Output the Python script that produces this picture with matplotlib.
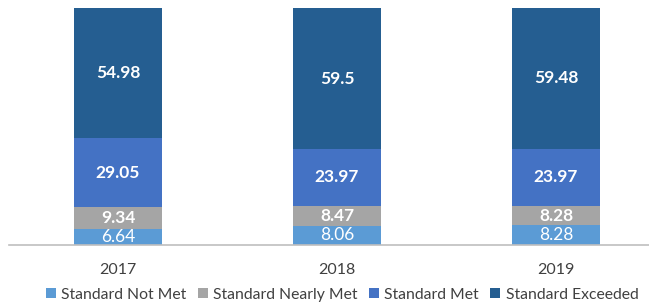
import matplotlib.pyplot as plt
import numpy as np

plt.rcParams['font.family'] = ['Lato', 'DejaVu Sans']

years = ['2017', '2018', '2019']
not_met = [6.64, 8.06, 8.28]
nearly_met = [9.34, 8.47, 8.28]
met = [29.05, 23.97, 23.97]
exceeded = [54.98, 59.5, 59.48]

series = [('Standard Not Met', not_met, '#5B9BD5', 'normal'),
          ('Standard Nearly Met', nearly_met, '#A5A5A5', 'bold'),
          ('Standard Met', met, '#4472C4', 'bold'),
          ('Standard Exceeded', exceeded, '#255E91', 'bold')]

fig = plt.figure(figsize=(6.49, 3.05), dpi=100)
ax = fig.add_axes([8.5 / 649, 60 / 305, 640.5 / 649, 237 / 305])

x = np.arange(len(years))
bottom = np.zeros(len(years))
for name, vals, color, weight in series:
    vals = np.array(vals)
    ax.bar(x, vals, 0.4, bottom=bottom, color=color, label=name)
    for xi, b, v in zip(x, bottom, vals):
        ax.text(xi, b + v / 2, f'{v:g}', ha='center', va='center',
                color='white', fontsize=12.5, fontweight=weight)
    bottom += vals

ax.set_xlim(-0.5, -0.5 + 640.5 / 219)
ax.set_ylim(0, 100)
ax.set_xticks(x)
ax.set_xticklabels(years, fontsize=11.5, color='#404040')
ax.tick_params(axis='x', length=0, pad=13)
ax.set_yticks([])
for s in ['top', 'right', 'left']:
    ax.spines[s].set_visible(False)
ax.spines['bottom'].set_color('#BFBFBF')
ax.spines['bottom'].set_linewidth(1.2)

fig.legend(loc='lower center', bbox_to_anchor=(0.527, -0.035), ncol=4,
           frameon=False, fontsize=11.3, handlelength=0.65, handleheight=0.65,
           handletextpad=0.35, columnspacing=0.7, labelcolor='#404040')

fig.savefig('out.png', dpi=100)
